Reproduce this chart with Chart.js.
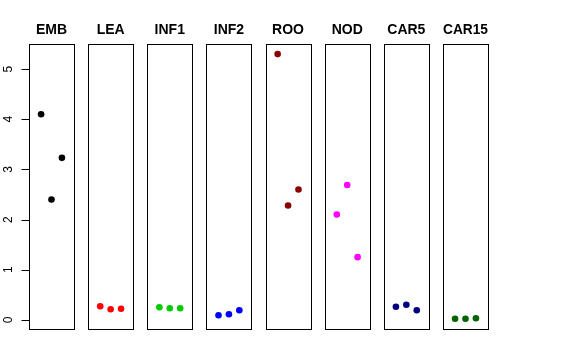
<!DOCTYPE html>
<html>
<head>
<meta charset="utf-8">
<script src="https://cdn.jsdelivr.net/npm/chart.js@4"></script>
<style>
  html, body { margin: 0; padding: 0; background: #fff; }
  #wrap { position: relative; width: 576px; height: 360px; }
  #wrap canvas { position: absolute; left: 0; top: 0; }
</style>
</head>
<body>
<div id="wrap"></div>
<script>
const panels = ['EMB', 'LEA', 'INF1', 'INF2', 'ROO', 'NOD', 'CAR5', 'CAR15'];
const colors = ['#000000', '#FF0000', '#00CD00', '#0000FF', '#8B0000', '#FF00FF', '#000080', '#006400'];
const positions = [1, 2, 3];

const valEMB = [4.10, 2.40, 3.23];
const valLEA = [0.27, 0.21, 0.22];
const valINF1 = [0.25, 0.23, 0.23];
const valINF2 = [0.09, 0.11, 0.19];
const valROO = [5.30, 2.28, 2.60];
const valNOD = [2.10, 2.69, 1.25];
const valCAR5 = [0.26, 0.30, 0.19];
const valCAR15 = [0.02, 0.02, 0.03];

const yTicks = [0, 1, 2, 3, 4, 5];

const allValues = [valEMB, valLEA, valINF1, valINF2, valROO, valNOD, valCAR5, valCAR15];

// R style axis limits: data range stretched by 4% each side
const flat = allValues.flat();
const lo = Math.min(...flat), hi = Math.max(...flat);
const yMin = lo - 0.04 * (hi - lo);
const yMax = hi + 0.04 * (hi - lo);
const xMin = 0 - 0.04 * 4, xMax = 4 + 0.04 * 4;

// box border + left axis for the first panel
const panelBox = {
  id: 'panelBox',
  afterDraw(chart, args, opts) {
    const { ctx, chartArea: a } = chart;
    const l = Math.round(a.left) + 0.5, t = Math.round(a.top) + 0.5;
    const r = Math.round(a.right) + 0.5, b = Math.round(a.bottom) + 0.5;
    ctx.save();
    ctx.strokeStyle = '#000';
    ctx.lineWidth = 1;
    ctx.strokeRect(l, t, r - l, b - t);
    if (opts.axis) {
      const y = chart.scales.y;
      ctx.beginPath();
      yTicks.forEach(v => {
        const py = Math.round(y.getPixelForValue(v)) + 0.5;
        ctx.moveTo(l - 8, py);
        ctx.lineTo(l, py);
      });
      ctx.stroke();
      ctx.fillStyle = '#000';
      ctx.font = '12px "Liberation Sans", Arial, sans-serif';
      ctx.textAlign = 'center';
      ctx.textBaseline = 'middle';
      yTicks.forEach(v => {
        const py = y.getPixelForValue(v);
        ctx.save();
        ctx.translate(8.5, py);
        ctx.rotate(-Math.PI / 2);
        ctx.fillText(String(v), 0, 0);
        ctx.restore();
      });
    }
    ctx.restore();
  }
};

const wrap = document.getElementById('wrap');
const boxWidth = 45;

panels.forEach((name, i) => {
  const canvas = document.createElement('canvas');
  canvas.width = 576;
  canvas.height = 360;
  wrap.appendChild(canvas);
  const left = 29 + i * 59.14;

  new Chart(canvas, {
    type: 'scatter',
    data: {
      datasets: [{
        label: name,
        data: positions.map((p, k) => ({ x: p, y: allValues[i][k] })),
        backgroundColor: colors[i],
        borderColor: colors[i],
        pointRadius: 3.3,
        pointBorderWidth: 0
      }]
    },
    options: {
      responsive: false,
      animation: false,
      events: [],
      layout: {
        padding: { left: left, right: 576 - left - boxWidth, top: 21.6, bottom: 30.6 }
      },
      plugins: {
        legend: { display: false },
        tooltip: { enabled: false },
        title: {
          display: true,
          text: name,
          color: '#000',
          font: { family: '"Liberation Sans", Arial, sans-serif', size: 14, weight: 'bold', lineHeight: 1.2 },
          padding: { top: 0, bottom: 5.1 }
        },
        panelBox: { axis: i === 0 }
      },
      scales: {
        x: { type: 'linear', display: false, min: xMin, max: xMax },
        y: { type: 'linear', display: false, min: yMin, max: yMax }
      }
    },
    plugins: [panelBox]
  });
});
</script>
</body>
</html>
